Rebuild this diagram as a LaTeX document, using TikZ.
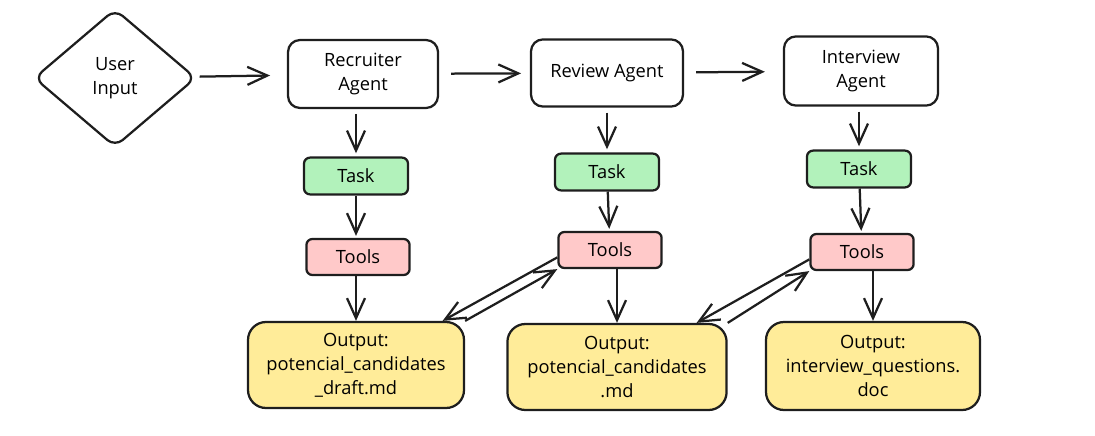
\documentclass[tikz,border=0pt]{standalone}
\usepackage{fontspec}
\setmainfont{Open Sans}
\usepackage{tikz}
\usetikzlibrary{arrows.meta,shapes.geometric}

\definecolor{ink}{HTML}{1E1E1E}
\definecolor{taskgreen}{HTML}{B2F2BB}
\definecolor{toolpink}{HTML}{FFC9C9}
\definecolor{outyellow}{HTML}{FFEC99}

\begin{document}
\begin{tikzpicture}[
        font = {\fontsize{13}{17}\selectfont},
        agent/.style = {draw=ink, line width=1.6pt, rounded corners=0.3cm, fill=white,
            align=center, minimum width=3.75cm, minimum height=1.7cm},
        taskbox/.style = {draw=ink, line width=1.6pt, rounded corners=0.15cm, fill=taskgreen,
            minimum width=2.6cm, minimum height=0.92cm},
        toolbox/.style = {draw=ink, line width=1.6pt, rounded corners=0.15cm, fill=toolpink,
            minimum width=2.58cm, minimum height=0.9cm},
        outbox/.style = {draw=ink, line width=1.6pt, rounded corners=0.45cm, fill=outyellow,
            align=center, minimum width=5.4cm, minimum height=2.15cm},
        flow/.style = {draw=ink, line width=1.6pt, -{Straight Barb[length=5mm,width=4.5mm]}}
    ]
        \useasboundingbox (0, 0) rectangle (27.375, 10.875);

        % top row
        \node[draw=ink, line width=1.6pt, shape=diamond, rounded corners=0.25cm, inner sep=0pt,
            minimum width=4.05cm, minimum height=3.45cm, align=center] (input) at (2.875, 8.925) {User\\Input};
        \node[agent] (recruiter) at (9.075, 9.025) {Recruiter\\Agent};
        \node[agent, minimum width=3.8cm, minimum height=1.68cm] (review) at (15.175, 9.05) {Review Agent};
        \node[agent, minimum width=3.85cm, minimum height=1.73cm] (interview) at (21.525, 9.1) {Interview\\Agent};

        % tasks
        \node[taskbox] (task1) at (8.9, 6.475) {Task};
        \node[taskbox] (task2) at (15.175, 6.575) {Task};
        \node[taskbox] (task3) at (21.475, 6.65) {Task};

        % tools
        \node[toolbox] (tools1) at (8.95, 4.45) {Tools};
        \node[toolbox] (tools2) at (15.25, 4.625) {Tools};
        \node[toolbox] (tools3) at (21.55, 4.575) {Tools};

        % outputs
        \node[outbox] (out1) at (8.9, 1.75) {Output:\\potencial\_candidates\\\_draft.md};
        \node[outbox, minimum width=5.48cm] (out2) at (15.425, 1.7) {Output:\\potencial\_candidates\\.md};
        \node[outbox, minimum width=5.35cm, minimum height=2.2cm] (out3) at (21.825, 1.725) {Output:\\interview\_questions.\\doc};

        % agent chain
        \draw[flow, shorten <=0.1cm, shorten >=0.42cm] (input) -- (recruiter);
        \draw[flow, shorten <=0.3cm, shorten >=0.22cm] (recruiter) -- (review);
        \draw[flow, shorten <=0.3cm, shorten >=0.45cm] (review) -- (interview);

        % columns
        \draw[flow, shorten <=0.12cm, shorten >=0.08cm] (recruiter.south -| task1) -- (task1);
        \draw[flow, shorten <=0.12cm, shorten >=0.08cm] (review.south -| task2) -- (task2);
        \draw[flow, shorten <=0.12cm, shorten >=0.08cm] (interview.south -| task3) -- (task3);
        \draw[flow, shorten >=0.05cm] (task1) -- (tools1.north -| task1);
        \draw[flow, shorten >=0.05cm] (task2) -- (tools2);
        \draw[flow, shorten >=0.05cm] (task3) -- (tools3);
        \draw[flow] (tools1.south -| out1) -- (out1);
        \draw[flow] (tools2.south -| out2) -- (out2);
        \draw[flow] (tools3.south -| out3) -- (out3);

        % back and forth between columns
        \draw[flow] (tools2.188) -- (out1.27);
        \draw[flow] (out1.north east) -- (tools2.south west);
        \draw[flow] (tools3.188) -- (out2.29);
        \draw[flow] (out2.north east) -- (tools3.south west);
\end{tikzpicture}
\end{document}
